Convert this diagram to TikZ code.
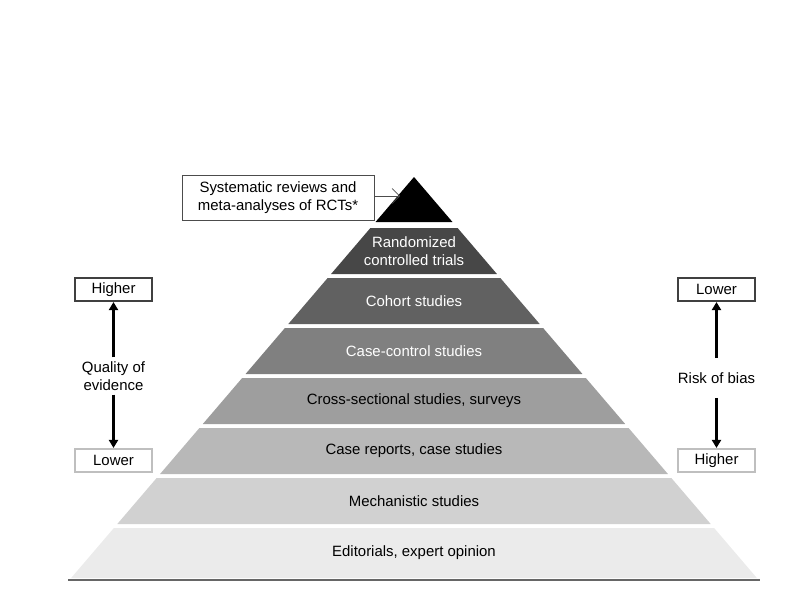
\documentclass[tikz,border=0pt]{standalone}
\usepackage{fontspec}
\setmainfont{Liberation Sans}
\usetikzlibrary{arrows.meta,positioning,calc}

\begin{document}
\begin{tikzpicture}[
  x=0.02cm, y=-0.02cm,
  font=\fontsize{8.5}{10}\selectfont,
  lbl/.style={align=center, inner sep=0pt},
  endbox/.style={draw, line width=1.2pt, minimum width=77*0.02cm, minimum height=23*0.02cm, inner sep=0pt, fill=white},
  bar/.style={-{Triangle[length=1.6mm,width=1.8mm]}, line width=1.5pt},
  arrow/.style={-{Straight Barb[length=1.5mm]}, thin}
]
  \useasboundingbox (0,0) rectangle (798,598);
  % apex
  \fill[black] (414,177) -- ({414-0.855*45},222) -- ({414+0.855*45},222) -- cycle;
  \coordinate (apex) at (400,196);
  % bands
  \foreach \i/\g/\tc/\txt in {
      1/72/white/{Randomized\\controlled trials},
      2/62/white/Cohort studies,
      3/50/white/Case-control studies,
      4/38/black/{Cross-sectional studies, surveys},
      5/28/black/{Case reports, case studies},
      6/18/black/Mechanistic studies,
      7/8/black/{Editorials, expert opinion}} {
    \pgfmathsetmacro{\yt}{228+50*(\i-1)}
    \pgfmathsetmacro{\yb}{\yt+46+(\i==7?4:0)}
    \fill[black!\g] ({414-0.855*(\yt-177)},\yt) -- ({414+0.855*(\yt-177)},\yt)
      -- ({414+0.855*(\yb-177)},\yb) -- ({414-0.855*(\yb-177)},\yb) -- cycle;
    \node[lbl, text=\tc] (band\i) at (414,{(\yt+\yb)/2}) {\txt};
  }
  \draw[black!60, line width=1pt] (68,580) -- (760,580);
  % callout
  \node[draw, black!70, text=black, minimum width=192*0.02cm, minimum height=45*0.02cm, align=center, inner sep=0pt]
    (srev) at (278,197.5) {Systematic reviews and\\meta-analyses of RCTs*};
  \draw[arrow, black!70] (srev.east |- apex) -- (apex);
  % quality of evidence
  \node[endbox, draw=black!75] (qhigh) at (113.5,289.5) {Higher};
  \node[endbox, draw=black!25] (qlow) at (113.5,460.5) {Lower};
  \node[lbl] (qual) at (113.5,376) {Quality of\\evidence};
  \draw[bar] ($(qual.north)+(0,-4)$) -- (qhigh.south);
  \draw[bar] ($(qual.south)+(0,4)$) -- (qlow.north);
  % risk of bias
  \node[endbox, draw=black!75] (rlow) at (716.5,289.5) {Lower};
  \node[endbox, draw=black!25] (rhigh) at (716.5,460.5) {Higher};
  \node[lbl] (risk) at (716.5,378) {Risk of bias};
  \draw[bar] ($(risk.north)+(0,-14)$) -- (rlow.south);
  \draw[bar] ($(risk.south)+(0,14)$) -- (rhigh.north);
\end{tikzpicture}
\end{document}
